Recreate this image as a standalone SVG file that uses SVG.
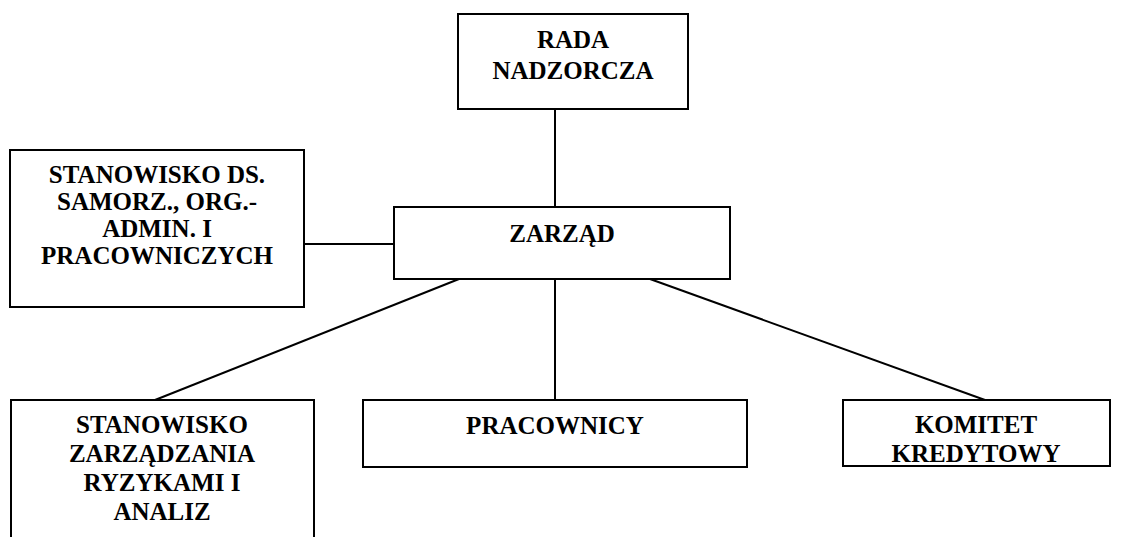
<svg xmlns="http://www.w3.org/2000/svg" width="1122" height="537" viewBox="0 0 1122 537">
<style>
.box{fill:#fff;stroke:#000;stroke-width:2}
text{font-family:'Liberation Serif','DejaVu Serif',serif;font-weight:700;font-size:25px;fill:#000;text-anchor:middle}
.c{stroke:#000;stroke-width:2;fill:none}
</style>
<rect width="1122" height="537" fill="#fff"/>
<g id="connectors">
<line class="c" x1="555" y1="109" x2="555" y2="207"/>
<line class="c" x1="304" y1="244" x2="394" y2="244"/>
<line class="c" x1="459" y1="279" x2="155" y2="400"/>
<line class="c" x1="555" y1="279" x2="555" y2="400"/>
<line class="c" x1="650" y1="279" x2="985" y2="400"/>
</g>
<g id="rada">
<rect class="box" x="458" y="14" width="230" height="95"/>
<text x="573" y="48" font-family="Liberation Serif, serif">RADA</text>
<text x="573" y="79" font-family="Liberation Serif, serif">NADZORCZA</text>
</g>
<g id="stanowisko-ds">
<rect class="box" x="10" y="150" width="294" height="157"/>
<text x="157" y="183" font-family="Liberation Serif, serif">STANOWISKO DS.</text>
<text x="157" y="210" font-family="Liberation Serif, serif">SAMORZ., ORG.-</text>
<text x="157" y="237" font-family="Liberation Serif, serif">ADMIN. I</text>
<text x="157" y="264" font-family="Liberation Serif, serif">PRACOWNICZYCH</text>
</g>
<g id="zarzad">
<rect class="box" x="394" y="207" width="336" height="72"/>
<text x="562" y="242" font-family="Liberation Serif, serif">ZARZĄD</text>
</g>
<g id="ryzyko">
<rect class="box" x="11" y="400" width="303" height="150"/>
<text x="162" y="433" font-family="Liberation Serif, serif">STANOWISKO</text>
<text x="162" y="462" font-family="Liberation Serif, serif">ZARZĄDZANIA</text>
<text x="162" y="491" font-family="Liberation Serif, serif">RYZYKAMI I</text>
<text x="162" y="520" font-family="Liberation Serif, serif">ANALIZ</text>
</g>
<g id="pracownicy">
<rect class="box" x="363" y="400" width="384" height="67"/>
<text x="555" y="434" font-family="Liberation Serif, serif">PRACOWNICY</text>
</g>
<g id="komitet">
<rect class="box" x="843" y="400" width="267" height="66"/>
<text x="976" y="433" font-family="Liberation Serif, serif">KOMITET</text>
<text x="976" y="462" font-family="Liberation Serif, serif">KREDYTOWY</text>
</g>
</svg>
